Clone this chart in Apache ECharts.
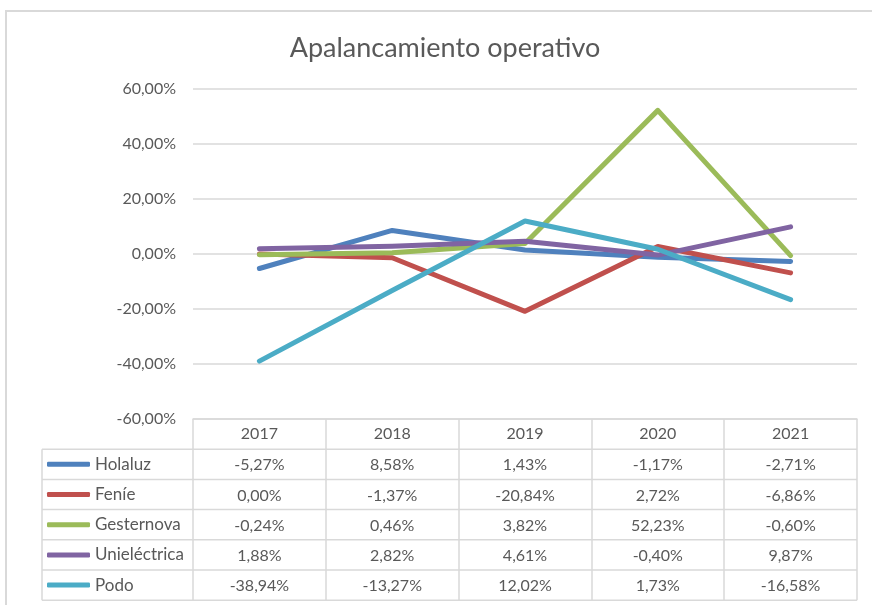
<!DOCTYPE html>
<html>
<head>
<meta charset="utf-8">
<script src="https://cdn.jsdelivr.net/npm/echarts@6/dist/echarts.min.js"></script>
<style>
  html, body { margin: 0; padding: 0; background: #fff; overflow: hidden; }
  #main { width: 872px; height: 605px; }
</style>
</head>
<body>
<div id="main"></div>
<script>
var chartDom = document.getElementById('main');
var myChart = echarts.init(chartDom);
var option;

const years = ['2017', '2018', '2019', '2020', '2021'];
const seriesNames = ['Holaluz', 'Feníe', 'Gesternova', 'Unieléctrica', 'Podo'];
const holaluz = [-5.27, 8.58, 1.43, -1.17, -2.71];
const fenie = [0.00, -1.37, -20.84, 2.72, -6.86];
const gesternova = [-0.24, 0.46, 3.82, 52.23, -0.60];
const unielectrica = [1.88, 2.82, 4.61, -0.40, 9.87];
const podo = [-38.94, -13.27, 12.02, 1.73, -16.58];
const seriesValues = [holaluz, fenie, gesternova, unielectrica, podo];
const colors = ['#4F81BD', '#C0504D', '#9BBB59', '#8064A2', '#4BACC6'];

const FONT = 'Lato';
const TEXT_COLOR = '#595959';
const BORDER = '#d9d9d9';

// layout of the plot + data table
const gridLeft = 193;
const gridRight = 857;
const gridTop = 89;
const axisY = 419;
const rowH = 30.2;
const legendLeft = 42;

function pct(v) {
  return v.toFixed(2).replace('.', ',') + '%';
}

// one hidden-line axis per table row, so each value sits under its year
function getRowAxes() {
  return seriesValues.map((vals, i) => {
    return {
      type: 'category',
      gridIndex: 0,
      position: 'bottom',
      offset: rowH * (i + 1),
      data: vals.map(pct),
      axisLine: { show: false, onZero: false },
      axisTick: { show: false },
      splitLine: { show: false },
      axisLabel: {
        interval: 0,
        margin: 8,
        color: TEXT_COLOR,
        fontFamily: FONT,
        fontSize: 16
      }
    };
  });
}

function getTableLines() {
  let lines = [];
  for (let r = 1; r <= 6; r++) {
    const y = axisY + rowH * r;
    lines.push({
      type: 'line',
      shape: { x1: legendLeft, y1: y, x2: gridRight, y2: y },
      style: { stroke: BORDER, lineWidth: 1.5 }
    });
  }
  lines.push({
    type: 'line',
    shape: { x1: legendLeft, y1: axisY + rowH, x2: legendLeft, y2: axisY + rowH * 6 },
    style: { stroke: BORDER, lineWidth: 1.5 }
  });
  // outer chart frame: left and top edges only, the rest lies outside the picture
  lines.push({
    type: 'line',
    shape: { x1: 6, y1: 10, x2: 6, y2: 605 },
    style: { stroke: BORDER, lineWidth: 2 }
  });
  lines.push({
    type: 'line',
    shape: { x1: 5, y1: 11, x2: 872, y2: 11 },
    style: { stroke: BORDER, lineWidth: 2 }
  });
  return lines;
}

option = {
  animation: false,
  title: {
    text: 'Apalancamiento operativo',
    left: 440,
    top: 30,
    textAlign: 'center',
    textStyle: {
      color: TEXT_COLOR,
      fontFamily: FONT,
      fontSize: 27,
      fontWeight: 'normal'
    }
  },
  legend: {
    orient: 'vertical',
    left: 47,
    top: axisY + rowH + rowH / 2 - 10,
    padding: 0,
    itemGap: rowH - 20,
    itemWidth: 43,
    itemHeight: 5,
    icon: 'roundRect',
    data: seriesNames,
    textStyle: {
      color: TEXT_COLOR,
      fontFamily: FONT,
      fontSize: 17,
      lineHeight: 20
    }
  },
  grid: {
    left: gridLeft,
    right: 872 - gridRight,
    top: gridTop,
    bottom: 605 - axisY
  },
  xAxis: [
    {
      type: 'category',
      data: years,
      boundaryGap: true,
      splitLine: { show: false },
      axisLine: { show: true, onZero: false, lineStyle: { color: BORDER, width: 1.5 } },
      axisTick: { show: true, inside: false, length: rowH * 6, lineStyle: { color: BORDER, width: 1.5 } },
      axisLabel: {
        interval: 0,
        margin: 7,
        color: TEXT_COLOR,
        fontFamily: FONT,
        fontSize: 16
      }
    }
  ].concat(getRowAxes()),
  yAxis: {
    type: 'value',
    min: -60,
    max: 60,
    interval: 20,
    axisLine: { show: false },
    axisTick: { show: false },
    splitLine: { lineStyle: { color: BORDER, width: 1.5 } },
    axisLabel: {
      margin: 17,
      color: TEXT_COLOR,
      fontFamily: FONT,
      fontSize: 16,
      formatter: pct
    }
  },
  graphic: getTableLines(),
  series: seriesNames.map((name, i) => {
    return {
      name: name,
      type: 'line',
      data: seriesValues[i],
      color: colors[i],
      showSymbol: false,
      symbol: 'none',
      lineStyle: { width: 5, cap: 'round', join: 'round' }
    };
  })
};

option && myChart.setOption(option);
</script>
</body>
</html>
